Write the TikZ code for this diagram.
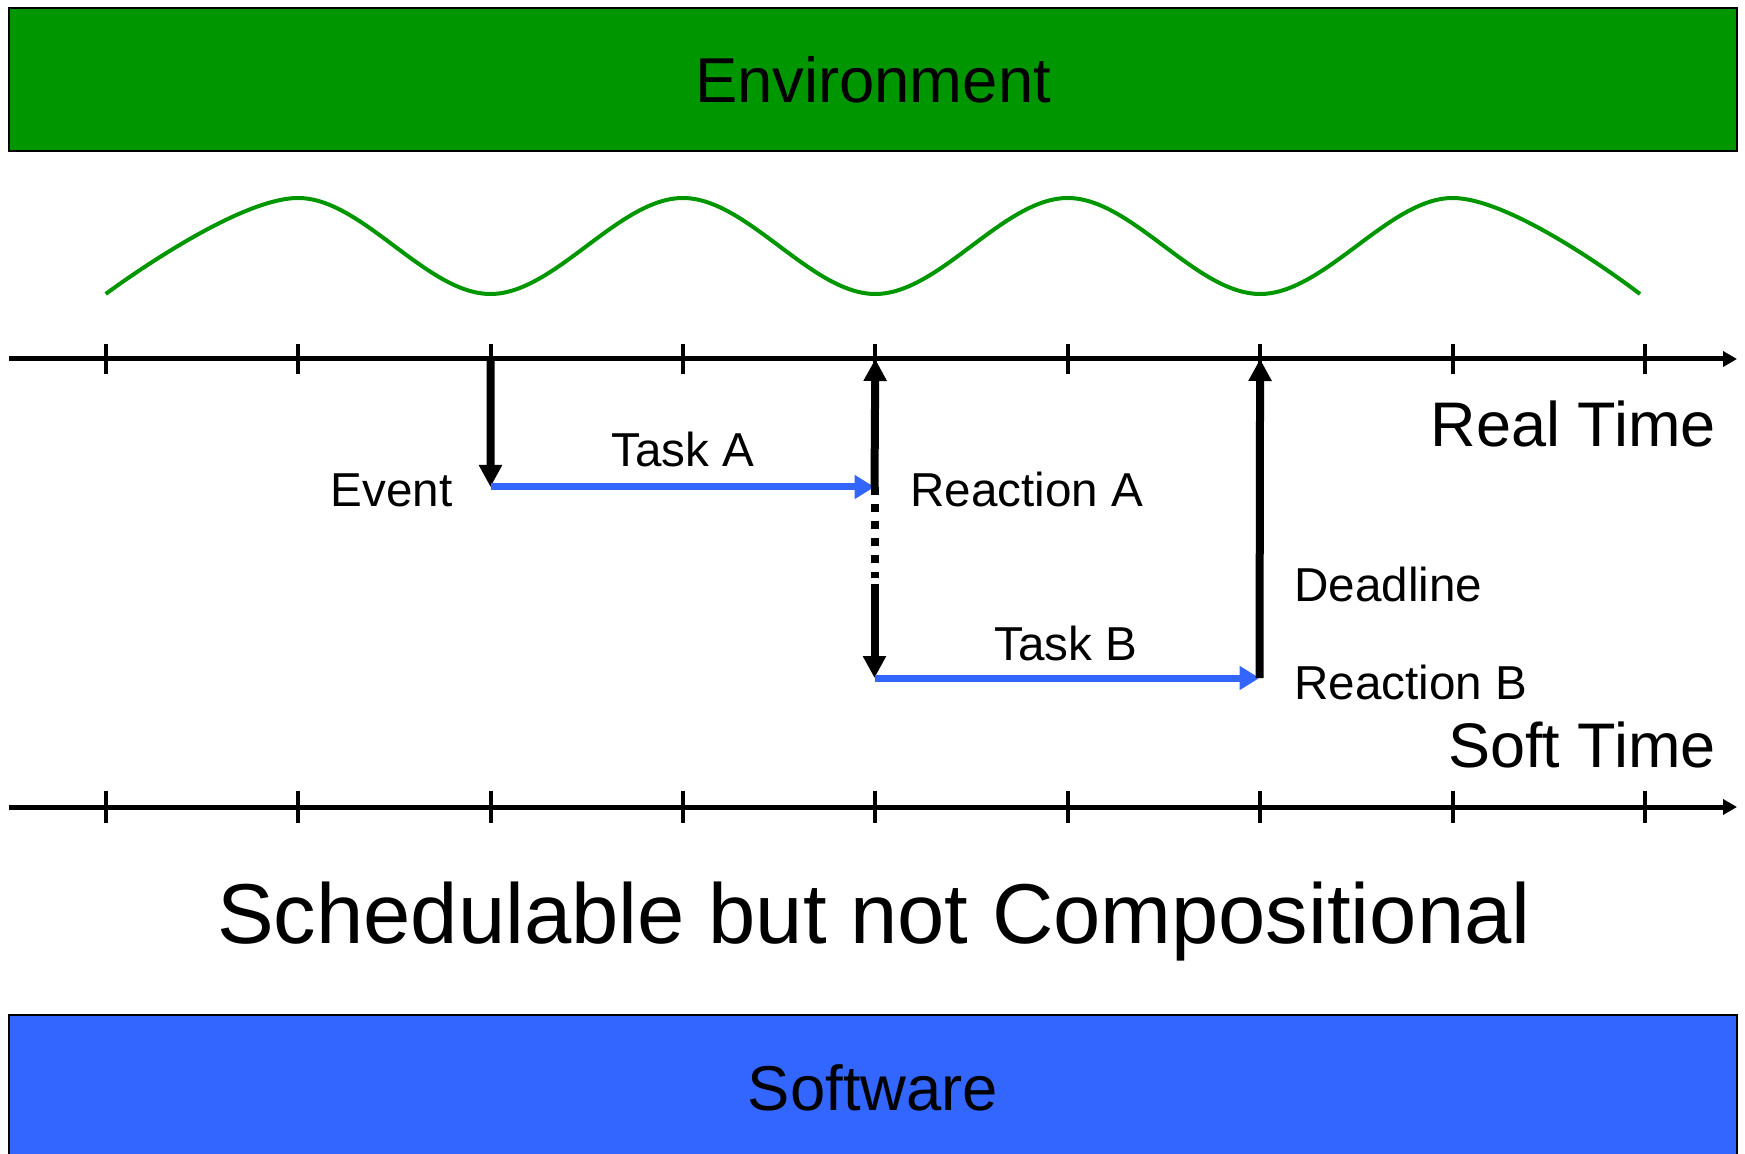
\documentclass[tikz,border=0pt]{standalone}
\usepackage{fontspec}
\setmainfont{Liberation Sans}
\usetikzlibrary{arrows.meta,calc}
\definecolor{envgreen}{RGB}{0,150,0}
\definecolor{swblue}{RGB}{51,102,255}

\begin{document}
\begin{tikzpicture}[x=0.5pt,y=-0.5pt,
  band/.style={draw=black,line width=1pt,minimum width=864pt,inner sep=0pt,
    font=\fontsize{31.7}{36}\selectfont},
  axis/.style={line width=2.5pt,-{Triangle[length=7pt,width=7.5pt]}},
  tickmark/.style={line width=2pt},
  evarrow/.style={line width=4pt,-{Triangle[length=11pt,width=11pt]}},
  taskarrow/.style={swblue,line width=3.5pt,-{Triangle[length=10pt,width=11.5pt]}},
  wave/.style={envgreen,line width=2pt},
  bigtext/.style={font=\fontsize{31.5}{36}\selectfont,inner sep=0pt},
  smalltext/.style={font=\fontsize{23.8}{28}\selectfont,inner sep=0pt,anchor=base},
]
\useasboundingbox (0,0) rectangle (1745,1154);
\clip (0,0) rectangle (1745,1154);

% environment and software bands
\node[band,fill=envgreen,minimum height=71.5pt] (env) at (873,79.5) {Environment};
\node[band,fill=swblue,minimum height=73pt] (sw) at (873,1088) {Software};

% environment signal through its peaks and troughs
\draw[wave] plot[smooth,tension=0.6] coordinates {
  (105.7,294) (298.1,198) (490.5,294) (682.9,198) (875.3,294)
  (1067.7,198) (1260.1,294) (1452.5,198) (1640,294)};

% time axes
\coordinate (rtA) at (9,359);
\coordinate (rtB) at (1737,359);
\coordinate (stA) at (9,807);
\coordinate (stB) at (1737,807);
\draw[axis] (rtA) -- (rtB);
\draw[axis] (stA) -- (stB);
\foreach \i in {0,...,8}{
  \coordinate (rt\i) at ({105.7+192.4*\i},359);
  \coordinate (st\i) at ({105.7+192.4*\i},807);
  \draw[tickmark] ($(rt\i)+(0,-15)$) -- ($(rt\i)+(0,15)$);
  \draw[tickmark] ($(st\i)+(0,-16)$) -- ($(st\i)+(0,16)$);
}

% event / reaction points
\coordinate (evt) at (490.5,487);
\coordinate (reacA) at (874.5,487);
\coordinate (dotEnd) at (874.5,578);
\coordinate (startB) at (874.5,584);
\coordinate (reacB) at (874.5,678);
\coordinate (dead) at (1259.5,678);

\draw[evarrow] (rt2) -- (evt);
\draw[taskarrow] (evt) -- (reacA);
\draw[evarrow] (reacA) -- (rt4);
\draw[line width=4pt,dash pattern=on 4pt off 4.5pt] (reacA) -- (dotEnd);
\draw[evarrow] (startB) -- (reacB);
\draw[taskarrow] (reacB) -- (dead);
\draw[evarrow] (dead) -- (rt6);

% labels
\node[bigtext,anchor=base east] (rtlabel) at (1716,447) {Real Time};
\node[bigtext,anchor=base east] (stlabel) at (1716,767) {Soft Time};
\node[font=\fontsize{42.5}{48}\selectfont,inner sep=0pt,anchor=base] (title) at (874,943) {Schedulable but not Compositional};
\node[smalltext] (taskA) at (683,467) {Task A};
\node[smalltext,anchor=base east] (evlabel) at (453,507) {Event};
\node[smalltext,anchor=base west] (raLabel) at (910,507) {Reaction A};
\node[smalltext,anchor=base west] (dlLabel) at (1294,602) {Deadline};
\node[smalltext] (taskB) at (1066,661) {Task B};
\node[smalltext,anchor=base west] (rbLabel) at (1294,699) {Reaction B};
\end{tikzpicture}
\end{document}
